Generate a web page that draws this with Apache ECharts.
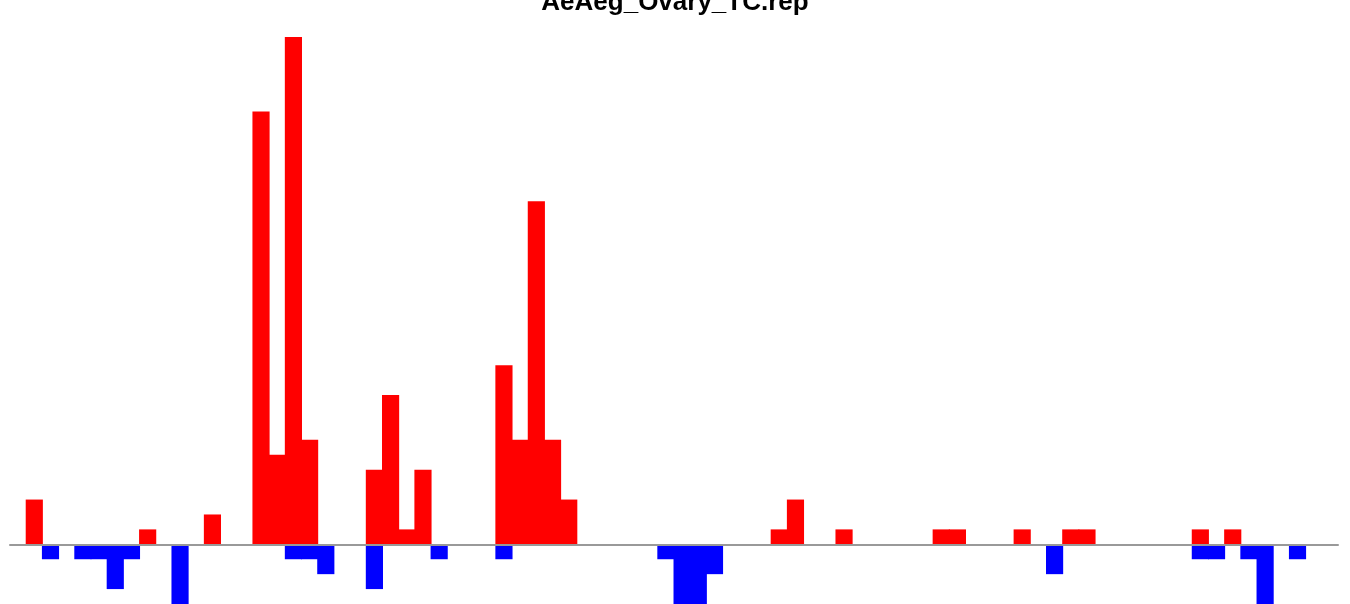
<!DOCTYPE html>
<html>
<head>
<meta charset="utf-8">
<script src="https://cdn.jsdelivr.net/npm/echarts@6/dist/echarts.min.js"></script>
<style>
html,body{margin:0;padding:0;background:#fff;}
#chart{width:1350px;height:604px;}
</style>
</head>
<body>
<div id="chart"></div>
<script>
const titleText = 'AeAeg_Ovary_TC.rep';
const categories = Array.from({length: 82}, (_, i) => String(i + 1));
const upSlots   = [1, 8, 12, 15, 16, 17, 18, 22, 23, 24, 25, 30, 31, 32, 33, 34, 47, 48, 51, 57, 58, 62, 65, 66, 73, 75];
const upValues  = [3, 1, 2, 29, 6, 34, 7, 5, 10, 1, 5, 12, 7, 23, 7, 3, 1, 3, 1, 1, 1, 1, 1, 1, 1, 1];
const downSlots  = [2, 4, 5, 6, 7, 10, 17, 18, 19, 22, 26, 30, 40, 41, 42, 43, 64, 73, 74, 76, 77, 79];
const downValues = [-1, -1, -1, -3, -1, -4, -1, -1, -2, -3, -1, -1, -1, -4, -4, -2, -2, -1, -1, -1, -4, -1];

const up = categories.map(() => null);
upSlots.forEach((s, i) => { up[s] = upValues[i]; });
const down = categories.map(() => null);
downSlots.forEach((s, i) => { down[s] = downValues[i]; });

const chart = echarts.init(document.getElementById('chart'), null, {renderer: 'canvas'});
chart.setOption({
  animation: false,
  backgroundColor: '#ffffff',
  title: {
    text: titleText,
    left: 'center',
    top: -15,
    textStyle: {fontFamily: 'Liberation Sans', fontWeight: 'bold', fontSize: 26, color: '#000'}
  },
  grid: {left: 10, right: 12, top: 37, bottom: -0.4, containLabel: false},
  xAxis: {
    type: 'category',
    data: categories,
    boundaryGap: true,
    axisLine: {show: true, onZero: true, lineStyle: {color: '#999', width: 2}},
    axisTick: {show: false},
    axisLabel: {show: false},
    splitLine: {show: false},
    z: 3
  },
  yAxis: {
    type: 'value',
    min: -4,
    max: 34,
    show: false,
    splitLine: {show: false}
  },
  series: [
    {
      type: 'bar',
      data: up,
      itemStyle: {color: '#ff0000'},
      barWidth: '106%',
      barGap: '-100%',
      z: 2
    },
    {
      type: 'bar',
      data: down,
      itemStyle: {color: '#0000ff'},
      barWidth: '106%',
      barGap: '-100%',
      z: 2
    }
  ]
});
</script>
</body>
</html>
